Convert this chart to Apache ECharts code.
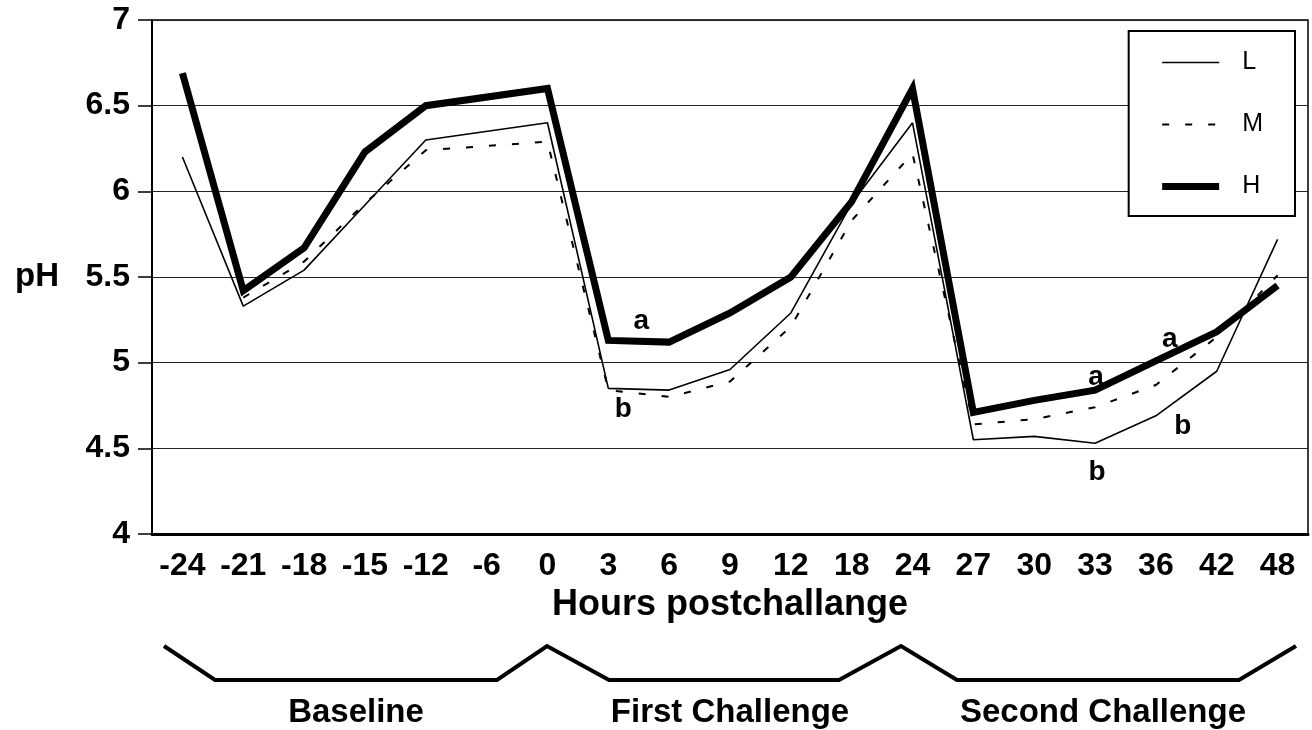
<!DOCTYPE html>
<html>
<head>
<meta charset="utf-8">
<script src="https://cdn.jsdelivr.net/npm/echarts@6/dist/echarts.min.js"></script>
<style>
  html, body { margin: 0; padding: 0; background: #fff; }
  #chart { width: 1312px; height: 730px; }
</style>
</head>
<body>
<div id="chart"></div>
<script>
// Sampling times (hours relative to challenge)
const hours = ['-24', '-21', '-18', '-15', '-12', '-6', '0', '3', '6', '9', '12', '18', '24', '27', '30', '33', '36', '42', '48'];

// Ruminal pH per treatment group (null = not sampled)
const phL = [6.20, 5.33, 5.54, 5.92, 6.30, null, 6.40, 4.85, 4.84, 4.96, 5.29, 5.93, 6.40, 4.55, 4.57, 4.53, 4.69, 4.95, 5.72];
const phM = [null, 5.38, 5.59, 5.93, 6.24, null, 6.29, 4.84, 4.80, 4.89, 5.21, 5.83, 6.22, 4.64, 4.67, 4.74, 4.87, 5.15, 5.51];
const phH = [6.69, 5.42, 5.67, 6.23, 6.50, null, 6.60, 5.13, 5.12, 5.29, 5.50, 5.94, 6.60, 4.71, 4.78, 4.84, 5.01, 5.18, 5.45];

const seriesNames = ['L', 'M', 'H'];

// Significance letters: which series, at which hour
const sigLetters = ['a', 'b', 'a', 'b', 'a', 'b'];
const sigSeries  = ['H', 'L', 'H', 'L', 'H', 'L'];
const sigHours   = ['3', '3', '33', '33', '36', '36'];

// Period labels under the axis
const periods = ['Baseline', 'First Challenge', 'Second Challenge'];

// Y axis range
const yMin = 4, yMax = 7, yStep = 0.5;

// ---- layout & style ----
const FONT = '"Liberation Sans", Arial, Helvetica, sans-serif';
const letterOffsets = [[33, -19], [15, 21], [1, -13], [2, 29], [14, -22], [27, 11]];

const valuesByName = { L: phL, M: phM, H: phH };
const lineStyles = {
  L: { color: '#000', width: 1.6, type: 'solid' },
  M: { color: '#000', width: 2, type: [7, 16] },
  H: { color: '#000', width: 7, type: 'solid', join: 'miter', miterLimit: 10 }
};

function markPointsFor(name) {
  const pts = [];
  sigLetters.forEach((txt, i) => {
    if (sigSeries[i] !== name) return;
    const idx = hours.indexOf(sigHours[i]);
    pts.push({
      coord: [idx, valuesByName[name][idx]],
      label: { formatter: txt, offset: letterOffsets[i] }
    });
  });
  return pts;
}

const series = seriesNames.map(name => ({
  name: name,
  type: 'line',
  data: valuesByName[name],
  connectNulls: true,
  symbol: 'none',
  showSymbol: false,
  animation: false,
  itemStyle: { color: '#000' },
  lineStyle: Object.assign({ cap: 'butt' }, lineStyles[name]),
  z: name === 'H' ? 3 : 2,
  markPoint: {
    symbol: 'circle',
    symbolSize: 1,
    itemStyle: { color: 'rgba(0,0,0,0)' },
    silent: true,
    animation: false,
    label: {
      show: true,
      position: 'inside',
      color: '#000',
      fontSize: 28,
      fontWeight: 'bold',
      fontFamily: FONT
    },
    data: markPointsFor(name)
  }
}));

// Bracket under the axis marking the three periods
const bracket = [[164, 646], [215, 680], [497, 680], [547, 646], [609, 680], [839, 680],
                 [901, 646], [957, 680], [1239, 680], [1296, 646]];
const periodCenters = [356, 730, 1103];

const chart = echarts.init(document.getElementById('chart'), null, { renderer: 'canvas' });
chart.setOption({
  backgroundColor: '#fff',
  animation: false,
  grid: {
    left: 152, right: 4, top: 20, bottom: 196,
    containLabel: false,
    outerBoundsMode: 'none',
    show: true, borderColor: '#000', borderWidth: 1.5, backgroundColor: 'transparent'
  },
  legend: {
    orient: 'vertical',
    right: 17,
    top: 31,
    padding: [19, 32, 17, 30],
    backgroundColor: '#fff',
    borderColor: '#000',
    borderWidth: 2,
    borderRadius: 0,
    itemWidth: 57,
    itemHeight: 25,
    itemGap: 37,
    textStyle: { color: '#000', fontSize: 25, fontFamily: FONT, padding: [0, 0, 0, 18] },
    data: seriesNames.map(n => ({
      name: n,
      lineStyle: lineStyles[n],
      itemStyle: { color: 'rgba(0,0,0,0)', borderWidth: 0 }
    }))
  },
  xAxis: {
    type: 'category',
    data: hours,
    boundaryGap: true,
    axisLine: { show: true, lineStyle: { color: '#000', width: 3 } },
    axisTick: { show: false },
    axisLabel: { interval: 0, color: '#000', fontSize: 32, fontWeight: 'bold', fontFamily: FONT, margin: 16 },
    splitLine: { show: false },
    name: 'Hours postchallange',
    nameLocation: 'middle',
    nameGap: 44,
    nameTextStyle: { color: '#000', fontSize: 36, fontWeight: 'bold', fontFamily: FONT }
  },
  yAxis: {
    type: 'value',
    min: yMin, max: yMax, interval: yStep,
    axisLine: { show: true, lineStyle: { color: '#000', width: 2 } },
    axisTick: { show: true, length: 14, lineStyle: { color: '#000', width: 1.5 } },
    axisLabel: { color: '#000', fontSize: 32, fontWeight: 'bold', fontFamily: FONT, margin: 22,
                 formatter: v => String(v) },
    splitLine: { show: true, lineStyle: { color: '#222', width: 1 } },
    name: 'pH',
    nameLocation: 'middle',
    nameRotate: 0,
    nameGap: 93,
    nameTextStyle: { color: '#000', fontSize: 33, fontWeight: 'bold', fontFamily: FONT }
  },
  series: series,
  graphic: [
    {
      type: 'polyline',
      shape: { points: bracket },
      style: { stroke: '#000', lineWidth: 4, fill: null, lineJoin: 'miter' },
      silent: true
    }
  ].concat(periods.map((p, i) => ({
    type: 'text',
    x: periodCenters[i],
    y: 713,
    style: {
      text: p, fill: '#000', fontSize: 33, fontWeight: 'bold', fontFamily: FONT,
      textAlign: 'center', textVerticalAlign: 'middle'
    },
    silent: true
  })))
});
</script>
</body>
</html>
